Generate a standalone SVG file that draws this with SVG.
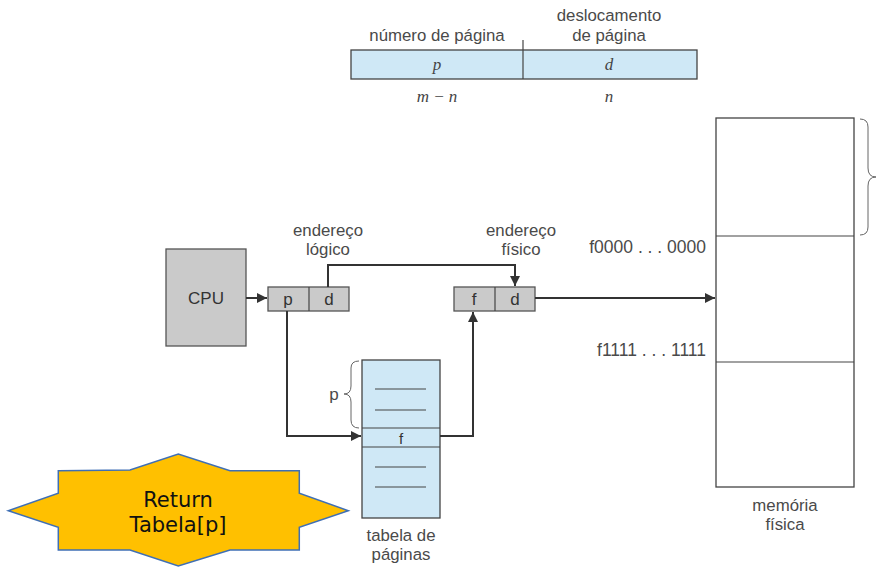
<svg xmlns="http://www.w3.org/2000/svg" width="878" height="567" viewBox="0 0 878 567">
  <style>
    .lbl { font-family: "Liberation Sans", Arial, sans-serif; font-size: 16.8px; fill: #4a4a4a; text-anchor: middle; }
    .lblr { font-family: "Liberation Sans", Arial, sans-serif; font-size: 17.5px; fill: #4a4a4a; text-anchor: end; }
    .box { font-family: "Liberation Sans", Arial, sans-serif; font-size: 17px; fill: #333; text-anchor: middle; }
    .it { font-family: "Liberation Serif", "Times New Roman", serif; font-style: italic; font-size: 17px; fill: #444; text-anchor: middle; }
    .gray { fill: #cacaca; stroke: #555; stroke-width: 1.3; }
    .blue { fill: #cfe8f6; stroke: #444; stroke-width: 1.3; }
    .mem { fill: #fff; stroke: #444; stroke-width: 1.3; }
    .conn { fill: none; stroke: #333; stroke-width: 2; }
    .thin { fill: none; stroke: #444; stroke-width: 1.2; }
    .brace { fill: none; stroke: #666; stroke-width: 1; }
    .star { font-family: "DejaVu Sans", sans-serif; font-size: 21px; fill: #111; text-anchor: middle; }
  </style>
  <defs>
    <marker id="arr" viewBox="0 0 10 10" refX="10" refY="5" markerWidth="5" markerHeight="5" orient="auto">
      <path d="M0,0 L10,5 L0,10 z" fill="#333"/>
    </marker>
  </defs>
  <rect width="878" height="567" fill="#fff"/>

  <!-- address format bar -->
  <g id="address-format">
    <rect class="blue" x="351" y="50" width="346" height="29"/>
    <line class="thin" x1="523" y1="40" x2="523" y2="79"/>
    <text class="lbl" x="437" y="41">número de página</text>
    <text class="lbl" x="609" y="21">deslocamento</text>
    <text class="lbl" x="609" y="41">de página</text>
    <text class="it" x="437" y="70">p</text>
    <text class="it" x="609" y="70">d</text>
    <text class="it" x="437" y="102">m − n</text>
    <text class="it" x="609" y="102">n</text>
  </g>

  <!-- CPU -->
  <g id="cpu">
    <rect class="gray" x="166" y="249" width="80" height="97"/>
    <text class="box" x="206" y="304">CPU</text>
  </g>

  <!-- logical address -->
  <g id="logical-address">
    <rect class="gray" x="268" y="287" width="81" height="24"/>
    <line class="thin" x1="309" y1="287" x2="309" y2="311"/>
    <text class="box" x="288" y="305">p</text>
    <text class="box" x="329" y="305">d</text>
    <text class="lbl" x="328" y="236">endereço</text>
    <text class="lbl" x="328" y="255">lógico</text>
  </g>

  <!-- physical address -->
  <g id="physical-address">
    <rect class="gray" x="454" y="287" width="81" height="24"/>
    <line class="thin" x1="495" y1="287" x2="495" y2="311"/>
    <text class="box" x="474" y="305">f</text>
    <text class="box" x="515" y="305">d</text>
    <text class="lbl" x="521" y="236">endereço</text>
    <text class="lbl" x="521" y="255">físico</text>
  </g>

  <!-- page table -->
  <g id="page-table">
    <rect class="blue" x="362" y="360" width="78" height="158"/>
    <line class="thin" x1="362" y1="428" x2="440" y2="428"/>
    <line class="thin" x1="362" y1="447" x2="440" y2="447"/>
    <line class="thin" x1="375" y1="389" x2="426" y2="389"/>
    <line class="thin" x1="375" y1="410" x2="426" y2="410"/>
    <line class="thin" x1="375" y1="467" x2="426" y2="467"/>
    <line class="thin" x1="375" y1="487" x2="426" y2="487"/>
    <text class="box" x="401" y="444" style="font-size:15px">f</text>
    <path class="brace" d="M359,361 Q351,361 351,368 L351,386 Q351,394 344,394 Q351,394 351,402 L351,420 Q351,428 359,428"/>
    <text class="lbl" x="334" y="400" style="font-size:17px">p</text>
    <text class="lbl" x="401" y="541">tabela de</text>
    <text class="lbl" x="401" y="560">páginas</text>
  </g>

  <!-- physical memory -->
  <g id="physical-memory">
    <rect class="mem" x="716" y="118" width="138" height="369"/>
    <line class="thin" x1="716" y1="236" x2="854" y2="236"/>
    <line class="thin" x1="716" y1="362" x2="854" y2="362"/>
    <path class="brace" d="M860,119 Q868,119 868,127 L868,168 Q868,177 876,177 Q868,177 868,186 L868,227 Q868,235 860,235"/>
    <text class="lblr" x="706" y="253">f0000 . . . 0000</text>
    <text class="lblr" x="706" y="356">f1111 . . . 1111</text>
    <text class="lbl" x="785" y="511">memória</text>
    <text class="lbl" x="785" y="530">física</text>
  </g>

  <!-- callout -->
  <g id="return-callout">
    <polygon points="58.3,470.7 130,470 178.3,454 230,470.7 299.3,470.7 299.3,493.3 348.3,510.7 299.3,527.3 299.3,550 230,550 178.3,566 130,550 58.3,550 58.3,527.3 8.3,510.7 58.3,493.3" fill="#ffc000" stroke="#3f6fb5" stroke-width="1.5"/>
    <text class="star" x="178" y="507">Return</text>
    <text class="star" x="178" y="532">Tabela[p]</text>
  </g>

  <!-- connectors -->
  <g id="connectors">
    <line class="conn" x1="246" y1="298" x2="267" y2="298" marker-end="url(#arr)"/>
    <polyline class="conn" points="328,287 328,265 515,265 515,286" marker-end="url(#arr)"/>
    <polyline class="conn" points="287,311 287,436 361,436" marker-end="url(#arr)"/>
    <polyline class="conn" points="440,436 473,436 473,312" marker-end="url(#arr)"/>
    <line class="conn" x1="535" y1="298" x2="715" y2="298" marker-end="url(#arr)"/>
  </g>
</svg>
